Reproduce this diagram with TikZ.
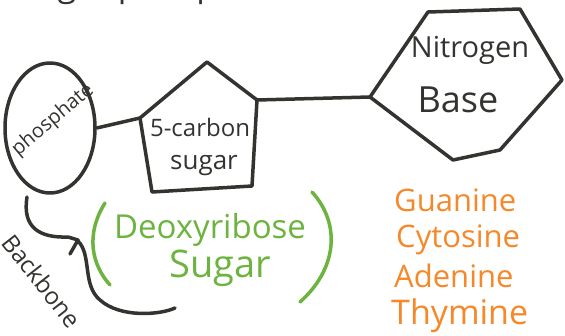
\documentclass[tikz,border=0pt]{standalone}
\usepackage{fontspec}
\setmainfont{Open Sans}
\usetikzlibrary{shapes.geometric,positioning}
\definecolor{ink}{HTML}{333330}
\definecolor{leaf}{HTML}{6CB33F}
\definecolor{peel}{HTML}{F5892A}
\tikzset{
  stroke/.style={draw=ink, line width=3.5pt, line cap=round, line join=round},
  word/.style={text=ink, inner sep=0pt},
  base/.style={text=peel, inner sep=0pt, anchor=base west, font=\fontsize{31}{31}\selectfont},
  deoxy/.style={text=leaf, inner sep=0pt},
}
\begin{document}
\begin{tikzpicture}[x=1pt,y=-1pt]
    \useasboundingbox (0,0) rectangle (565,335);
    \node[word, anchor=base west, font=\fontsize{34}{34}\selectfont] (title) at (18,-4) {Sugar phosphate};

    \node[stroke, ellipse, minimum width=90, minimum height=130] (phos) at (50,128) {};
    \node[word, rotate=40, font=\fontsize{20}{20}\selectfont] (phostxt) at (53,120) {phosphate};

    \coordinate (s1) at (207,62);
    \coordinate (s2) at (257,100);
    \coordinate (s3) at (252,186);
    \coordinate (s4) at (152,192);
    \coordinate (s5) at (140,118);
    \draw[stroke] (s1) -- (s2) -- (s3) -- (s4) -- (s5) -- cycle;
    \node[word, font=\fontsize{24}{24}\selectfont] (carbon) at (200,127) {5-carbon};
    \node[word, font=\fontsize{26}{26}\selectfont] (sugar) at (204,166) {sugar};

    \coordinate (h1) at (370,97);
    \coordinate (h2) at (428,12);
    \coordinate (h3) at (520,9);
    \coordinate (h4) at (562,80);
    \coordinate (h5) at (500,150);
    \coordinate (h6) at (453,160);
    \draw[stroke] (h1) -- (h2) -- (h3) -- (h4) -- (h5) -- (h6) -- cycle;
    \node[word, font=\fontsize{29}{29}\selectfont] (nitro) at (470,50) {Nitrogen};
    \node[word, font=\fontsize{36}{36}\selectfont] (nbase) at (458,100) {Base};

    \draw[stroke] (phos.east) -- (s5);
    \draw[stroke] (s2) -- (h1);

    \node[base] (guan) at (394,211) {Guanine};
    \node[base] (cyto) at (396,247) {Cytosine};
    \node[base] (aden) at (394,287) {Adenine};
    \node[base, font=\fontsize{34}{34}\selectfont] (thym) at (391,324) {Thymine};

    \draw[stroke, draw=leaf] (105,203) .. controls (85,235) and (92,265) .. (110,285);
    \draw[stroke, draw=leaf] (312,192) .. controls (342,225) and (336,270) .. (300,302);
    \node[deoxy, font=\fontsize{33}{33}\selectfont] (deoxyt) at (210,230) {Deoxyribose};
    \node[deoxy, font=\fontsize{38}{38}\selectfont] (dsugar) at (220,268) {Sugar};

    \draw[stroke] (27,197) .. controls (22,228) and (40,238) .. (68,237) -- (78,240) -- (70,254);
    \draw[stroke] (78,241) .. controls (92,255) and (82,285) .. (100,300) .. controls (120,318) and (160,315) .. (175,308);
    \node[word, rotate=-52, font=\fontsize{24}{24}\selectfont] (bone) at (42,281) {Backbone};
\end{tikzpicture}
\end{document}
